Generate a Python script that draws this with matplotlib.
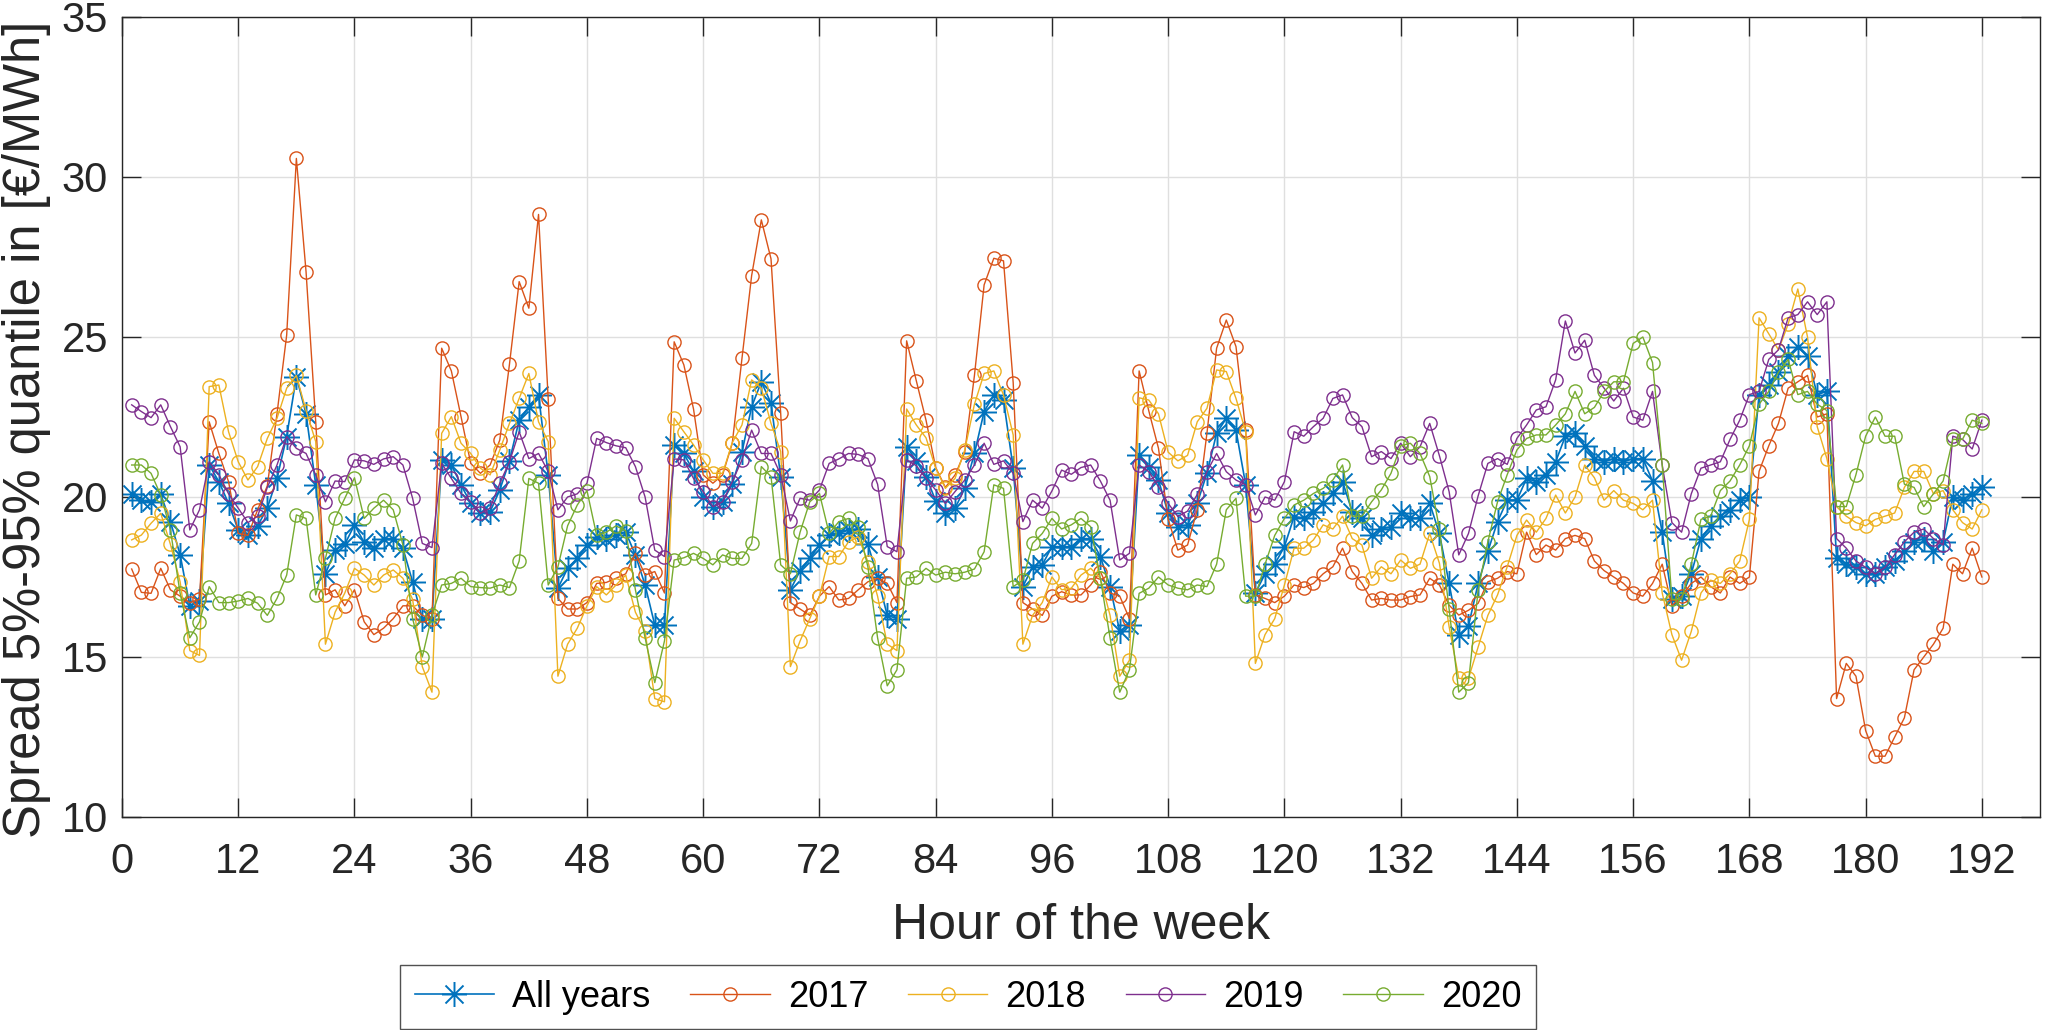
import numpy as np
import matplotlib
matplotlib.use("Agg")
import matplotlib.pyplot as plt
from matplotlib.path import Path

plt.rcParams['font.family'] = ['Liberation Sans', 'DejaVu Sans']

hours = list(range(1, 193))

all_years = [
 20.1, 19.9, 19.83, 20.08, 19.23, 18.2, 16.6, 16.75, 21.0, 20.48, 19.8, 18.97,
 18.8, 19.1, 19.65, 20.58, 21.89, 23.76, 22.6, 20.38, 17.6, 18.34, 18.52, 19.13,
 18.58, 18.4, 18.7, 18.7, 18.4, 17.35, 16.2, 16.2, 21.16, 21.0, 20.38, 19.8,
 19.49, 19.54, 20.22, 21.13, 22.4, 22.82, 23.19, 20.69, 17.15, 17.77, 18.08, 18.5,
 18.76, 18.7, 18.8, 18.9, 18.19, 17.25, 16.0, 16.0, 21.63, 21.36, 20.8, 20.0,
 19.7, 19.85, 20.4, 21.4, 22.82, 23.6, 22.93, 20.64, 17.1, 17.7, 18.08, 18.5,
 18.8, 18.86, 18.97, 19.0, 18.52, 17.5, 16.3, 16.2, 21.57, 21.13, 20.64, 19.88,
 19.49, 19.65, 20.27, 21.36, 22.67, 23.19, 23.03, 20.9, 17.2, 17.82, 17.88, 18.45,
 18.45, 18.45, 18.7, 18.7, 18.14, 17.2, 15.8, 16.0, 21.3, 20.95, 20.53, 19.49,
 19.07, 19.13, 19.8, 20.74, 21.99, 22.46, 22.09, 20.38, 16.99, 17.6, 17.9, 18.45,
 19.39, 19.33, 19.54, 19.8, 20.11, 20.48, 19.54, 19.33, 18.8, 19.0, 19.07, 19.5,
 19.33, 19.35, 19.8, 18.86, 17.3, 15.69, 15.97, 17.3, 18.3, 19.23, 19.9, 19.9,
 20.58, 20.48, 20.7, 21.1, 21.9, 22.0, 21.6, 21.2, 21.1, 21.2, 21.1, 21.2,
 21.2, 20.5, 18.9, 16.8, 16.9, 17.6, 18.7, 19.1, 19.4, 19.6, 19.9, 20.0,
 23.2, 23.5, 23.9, 24.4, 24.7, 24.4, 23.2, 23.3, 18.1, 17.9, 17.8, 17.6,
 17.6, 17.8, 18.0, 18.3, 18.6, 18.7, 18.3, 18.6, 20.0, 19.9, 20.1, 20.3]

y2017 = [
 17.75, 17.02, 16.99, 17.77, 17.1, 16.9, 16.7, 16.8, 22.35, 21.36, 20.48, 18.86,
 18.8, 19.6, 20.35, 22.6, 25.06, 30.58, 27.04, 22.35, 16.94, 17.1, 16.6, 17.1,
 16.1, 15.7, 15.9, 16.2, 16.6, 16.6, 16.3, 16.2, 24.65, 23.94, 22.51, 21.05,
 20.74, 21.0, 21.78, 24.15, 26.73, 25.9, 28.83, 23.05, 16.83, 16.5, 16.5, 16.7,
 17.3, 17.33, 17.46, 17.6, 18.24, 17.56, 17.67, 17.0, 24.85, 24.13, 22.75, 20.69,
 20.43, 20.69, 21.68, 24.33, 26.92, 28.66, 27.44, 22.61, 16.7, 16.5, 16.3, 16.9,
 17.2, 16.78, 16.83, 17.1, 17.35, 17.46, 17.3, 16.7, 24.88, 23.63, 22.4, 20.92,
 20.3, 20.69, 21.4, 23.8, 26.63, 27.46, 27.38, 23.57, 16.7, 16.5, 16.3, 16.9,
 17.04, 16.94, 16.94, 17.25, 17.67, 17.0, 16.9, 16.2, 23.94, 22.69, 21.52, 19.3,
 18.34, 18.5, 19.6, 21.99, 24.65, 25.53, 24.7, 22.09, 16.94, 16.83, 16.7, 16.9,
 17.25, 17.17, 17.3, 17.6, 17.82, 18.4, 17.67, 17.3, 16.78, 16.83, 16.78, 16.78,
 16.89, 16.94, 17.46, 17.25, 16.62, 16.31, 16.46, 16.68, 17.35, 17.46, 17.67, 17.6,
 18.9, 18.2, 18.5, 18.34, 18.7, 18.8, 18.7, 18.0, 17.7, 17.5, 17.3, 17.0,
 16.9, 17.3, 17.9, 16.6, 16.9, 17.3, 17.5, 17.2, 17.0, 17.5, 17.3, 17.5,
 20.8, 21.6, 22.3, 23.4, 23.6, 23.8, 22.5, 22.6, 13.7, 14.8, 14.4, 12.7,
 11.9, 11.9, 12.5, 13.1, 14.6, 15.0, 15.4, 15.9, 17.9, 17.6, 18.4, 17.5]

y2018 = [
 18.66, 18.81, 19.18, 19.49, 18.52, 17.35, 15.2, 15.05, 23.45, 23.5, 22.04, 21.1,
 20.53, 20.95, 21.83, 22.46, 23.4, 23.8, 22.7, 21.73, 15.4, 16.4, 17.0, 17.77,
 17.56, 17.25, 17.56, 17.72, 17.46, 16.8, 14.7, 13.9, 21.99, 22.51, 21.68, 21.36,
 20.9, 20.69, 21.47, 22.3, 23.08, 23.86, 22.35, 21.73, 14.4, 15.4, 15.9, 16.6,
 17.2, 16.94, 17.25, 17.56, 16.4, 15.8, 13.7, 13.6, 22.46, 22.04, 21.63, 21.16,
 20.74, 20.74, 21.7, 22.25, 23.66, 23.4, 22.3, 21.42, 14.7, 15.5, 16.2, 16.9,
 18.14, 18.14, 18.6, 18.76, 17.98, 16.9, 15.4, 15.2, 22.75, 22.25, 21.85, 20.9,
 20.27, 20.58, 21.47, 22.9, 23.86, 23.94, 23.19, 21.94, 15.4, 16.3, 16.7, 17.5,
 17.1, 17.15, 17.56, 17.77, 17.46, 16.3, 14.4, 14.9, 23.1, 23.03, 22.6, 21.4,
 21.13, 21.3, 22.35, 22.77, 23.97, 23.92, 23.08, 22.04, 14.8, 15.7, 16.2, 17.25,
 18.4, 18.4, 18.66, 19.13, 19.0, 19.4, 18.7, 18.5, 17.46, 17.82, 17.6, 18.03,
 17.77, 17.9, 18.86, 17.93, 15.95, 14.33, 14.33, 15.32, 16.3, 16.94, 17.82, 18.8,
 19.28, 18.9, 19.33, 20.06, 19.5, 20.0, 21.0, 20.6, 19.9, 20.2, 19.9, 19.8,
 19.6, 19.9, 17.0, 15.7, 14.9, 15.8, 17.0, 17.4, 17.3, 17.6, 18.0, 19.3,
 25.6, 25.1, 24.6, 25.4, 26.5, 25.0, 22.2, 21.2, 19.7, 19.4, 19.2, 19.1,
 19.3, 19.4, 19.5, 20.3, 20.8, 20.8, 20.1, 20.2, 19.6, 19.2, 19.0, 19.6]

y2019 = [
 22.88, 22.67, 22.48, 22.88, 22.2, 21.57, 18.97, 19.6, 21.1, 20.7, 20.1, 19.65,
 19.2, 19.4, 20.3, 21.0, 21.89, 21.52, 21.36, 20.69, 19.85, 20.5, 20.48, 21.16,
 21.13, 21.02, 21.19, 21.26, 21.0, 19.96, 18.55, 18.42, 21.05, 20.58, 20.11, 19.85,
 19.49, 19.65, 20.43, 21.1, 22.04, 21.2, 21.36, 20.8, 19.6, 20.0, 20.1, 20.43,
 21.83, 21.7, 21.6, 21.54, 20.95, 20.0, 18.34, 18.14, 21.19, 21.16, 20.58, 20.17,
 19.7, 19.85, 20.48, 21.16, 22.09, 21.36, 21.36, 20.7, 19.25, 19.96, 19.9, 20.22,
 21.05, 21.19, 21.36, 21.33, 21.2, 20.4, 18.45, 18.29, 21.16, 20.98, 20.58, 20.22,
 19.8, 20.17, 20.53, 21.0, 21.68, 21.02, 21.13, 20.74, 19.23, 19.9, 19.65, 20.19,
 20.84, 20.71, 20.92, 21.0, 20.5, 19.9, 18.03, 18.24, 21.0, 20.79, 20.32, 19.8,
 19.39, 19.56, 20.08, 20.79, 21.36, 20.79, 20.53, 20.38, 19.44, 20.0, 19.9, 20.48,
 22.04, 21.9, 22.2, 22.46, 23.08, 23.19, 22.48, 22.2, 21.26, 21.42, 21.2, 21.68,
 21.26, 21.57, 22.3, 21.29, 20.17, 18.19, 18.86, 20.04, 21.05, 21.2, 21.02, 21.83,
 22.25, 22.72, 22.82, 23.66, 25.5, 24.5, 24.9, 23.8, 23.4, 23.0, 23.4, 22.5,
 22.4, 23.3, 21.0, 19.2, 18.9, 20.1, 20.9, 21.0, 21.1, 21.8, 22.4, 23.2,
 23.3, 24.3, 24.6, 25.6, 25.7, 26.1, 25.7, 26.1, 18.7, 18.4, 18.0, 17.8,
 17.6, 17.8, 18.2, 18.6, 18.9, 19.0, 18.7, 18.5, 21.9, 21.8, 21.5, 22.4]

y2020 = [
 21.0, 21.0, 20.74, 20.06, 18.97, 16.99, 15.6, 16.1, 17.2, 16.7, 16.7, 16.75,
 16.83, 16.68, 16.3, 16.83, 17.56, 19.44, 19.33, 16.94, 18.08, 19.33, 19.96, 20.6,
 19.33, 19.65, 19.9, 19.6, 18.5, 16.2, 15.0, 16.3, 17.25, 17.3, 17.46, 17.2,
 17.17, 17.15, 17.25, 17.17, 18.0, 20.58, 20.43, 17.25, 17.82, 19.1, 19.75, 20.2,
 18.8, 18.9, 19.1, 18.94, 17.1, 15.6, 14.2, 15.5, 18.03, 18.1, 18.24, 18.08,
 17.88, 18.19, 18.08, 18.08, 18.55, 20.95, 20.64, 17.88, 17.6, 18.9, 19.85, 20.11,
 18.86, 19.23, 19.33, 19.07, 17.82, 15.6, 14.1, 14.6, 17.46, 17.5, 17.77, 17.56,
 17.65, 17.6, 17.65, 17.75, 18.29, 20.38, 20.27, 17.2, 17.4, 18.55, 18.86, 19.33,
 19.0, 19.13, 19.33, 19.07, 17.46, 15.6, 13.9, 14.6, 16.99, 17.15, 17.5, 17.25,
 17.15, 17.1, 17.25, 17.2, 17.9, 19.6, 19.96, 16.9, 16.9, 17.9, 18.8, 19.33,
 19.75, 19.9, 20.11, 20.27, 20.53, 21.0, 19.4, 19.4, 19.85, 20.22, 20.74, 21.6,
 21.68, 21.36, 20.64, 19.0, 16.5, 13.9, 14.2, 17.1, 18.6, 19.85, 20.7, 21.47,
 21.83, 21.94, 21.94, 22.25, 22.6, 23.3, 22.6, 22.8, 23.3, 23.6, 23.6, 24.8,
 25.0, 24.2, 21.0, 16.8, 16.8, 17.9, 19.3, 19.4, 20.2, 20.5, 21.0, 21.6,
 22.9, 23.3, 23.9, 24.3, 23.2, 23.3, 22.9, 22.7, 19.7, 19.7, 20.7, 21.9,
 22.5, 21.9, 21.9, 20.4, 20.3, 19.7, 20.1, 20.5, 21.8, 21.8, 22.4, 22.3]

series_labels = ['All years', '2017', '2018', '2019', '2020']
xtick_vals = list(range(0, 193, 12))
ytick_vals = [10, 15, 20, 25, 30, 35]

# MATLAB-style asterisk marker (+ and x overlaid)
d = 0.72
asterisk = Path([(0, -1), (0, 1), (-1, 0), (1, 0), (-d, -d), (d, d), (-d, d), (d, -d)],
                [Path.MOVETO, Path.LINETO] * 4)

W, H = 2061, 1030
fig = plt.figure(figsize=(W / 100, H / 100), dpi=100)
left, right, top, bottom = 122, 2040, 17, 817
ax = fig.add_axes([left / W, 1 - bottom / H, (right - left) / W, (bottom - top) / H])

ax.plot(hours, all_years, color='#0072BD', marker=asterisk, markersize=18, linewidth=1.2,
        markeredgewidth=1.4, markerfacecolor='none', label=series_labels[0])
cols = ['#D95319', '#EDB120', '#7E2F8E', '#77AC30']
for vals, c, lab in zip([y2017, y2018, y2019, y2020], cols, series_labels[1:]):
    ax.plot(hours, vals, color=c, marker='o', markersize=9.5, markerfacecolor='none',
            markeredgewidth=1.0, linewidth=1.0, label=lab)

ax.set_xlim(0, 198)
ax.set_ylim(10, 35)
ax.set_xticks(xtick_vals)
ax.set_yticks(ytick_vals)
ax.grid(True, color='#DFDFDF', linewidth=1.0)
ax.set_axisbelow(True)
ax.tick_params(direction='in', length=13.5, width=1.0, colors='#262626', labelsize=30,
               top=True, right=True)
ax.tick_params(axis='y', pad=10)
ax.tick_params(axis='x', pad=18)
for s in ax.spines.values():
    s.set_color('#262626')
    s.set_linewidth(1.0)
ax.set_xlabel('Hour of the week', fontsize=36, color='#262626', labelpad=15)
ax.set_ylabel('Spread 5%-95% quantile in [€/MWh]', fontsize=36.5, color='#262626')
ax.yaxis.set_label_coords(-0.037, 0.485)

leg = fig.legend(loc='lower center', bbox_to_anchor=(968 / W, 0.001), ncol=5,
                 fontsize=26, frameon=True, fancybox=False, edgecolor='#262626',
                 handlelength=2.2, columnspacing=1.1, handletextpad=0.5,
                 borderpad=0.4, borderaxespad=0.0)
leg.get_frame().set_linewidth(1.0)

fig.savefig('out.png', dpi=100)
